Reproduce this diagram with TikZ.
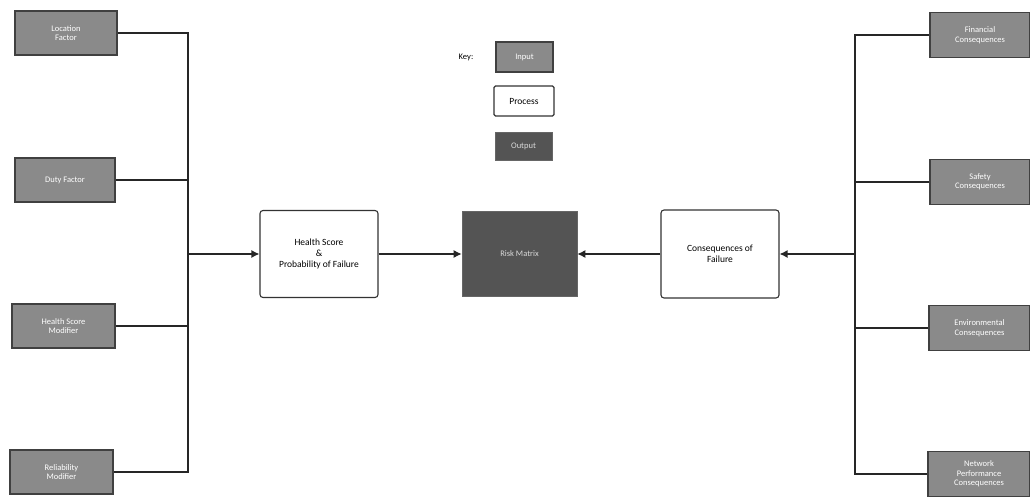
\documentclass[tikz,border=0pt]{standalone}
\usepackage{fontspec}
\setmainfont{Carlito}
\usetikzlibrary{arrows.meta}
\definecolor{inputgray}{HTML}{8A8A8A}
\definecolor{outputgray}{HTML}{545454}
\tikzset{
  inbox/.style={draw=black!75, line width=1.5pt, fill=inputgray, text=white, font=\fontsize{8.5}{9.5}\selectfont, align=center, inner sep=1pt},
  procbox/.style={draw=black!80, line width=1.1pt, fill=white, rounded corners=3pt, font=\fontsize{9.5}{11}\selectfont, align=center, inner sep=1pt},
  outbox/.style={draw=black!60, line width=0.6pt, fill=outputgray, text=white!85!black, font=\fontsize{8.5}{9.5}\selectfont, align=center, inner sep=1pt},
  conn/.style={draw=black!85, line width=1.3pt},
  arr/.style={conn, -{Latex[length=8pt,width=8pt]}}
}
\begin{document}
\begin{tikzpicture}[x=1pt,y=-1pt]
\useasboundingbox (0,0) rectangle (1030,497);
% left inputs
\node[inbox, minimum width=102pt, minimum height=44pt] (loc) at (66,33) {Location\\Factor};
\node[inbox, minimum width=100pt, minimum height=44pt] (duty) at (65,180) {Duty Factor};
\node[inbox, minimum width=103pt, minimum height=44pt] (hsm) at (63.5,326) {Health Score\\Modifier};
\node[inbox, minimum width=103pt, minimum height=44pt] (rel) at (61.5,472) {Reliability\\Modifier};
% right inputs
\node[inbox, minimum width=100pt, minimum height=45pt] (fin) at (980,35) {Financial\\Consequences};
\node[inbox, minimum width=100pt, minimum height=45pt] (saf) at (980,182) {Safety\\Consequences};
\node[inbox, minimum width=101pt, minimum height=45pt] (env) at (979.5,328) {Environmental\\Consequences};
\node[inbox, minimum width=102pt, minimum height=45pt] (net) at (979,474) {Network\\Performance\\Consequences};
% process / output
\node[procbox, minimum width=118pt, minimum height=87pt] (hs) at (319,254) {Health Score\\\&\\Probability of Failure};
\node[outbox, minimum width=115pt, minimum height=85pt] (risk) at (519.5,254) {Risk Matrix};
\node[procbox, minimum width=118pt, minimum height=88pt] (cof) at (720,254) {Consequences of\\Failure};
% key
\node[font=\fontsize{8.5}{9.5}\selectfont] (key) at (466,57) {Key:};
\node[inbox, minimum width=57pt, minimum height=30pt] (kin) at (524.5,57) {Input};
\node[procbox, rounded corners=1.5pt, minimum width=60pt, minimum height=30pt] (kproc) at (524,101) {Process};
\node[outbox, minimum width=57pt, minimum height=28pt] (kout) at (523.5,146) {Output};
% buses
\coordinate (lb) at (188,254);
\coordinate (rb) at (855,254);
\draw[conn] (loc.east) -| (lb);
\draw[conn] (duty.east) -| (lb);
\draw[conn] (hsm.east) -| (lb);
\draw[conn] (rel.east) -| (lb);
\draw[conn] (fin.west) -| (rb);
\draw[conn] (saf.west) -| (rb);
\draw[conn] (env.west) -| (rb);
\draw[conn] (net.west) -| (rb);
\draw[arr] (lb) -- (hs.west);
\draw[arr] (rb) -- (cof.east);
\draw[arr] (hs.east) -- (risk.west);
\draw[arr] (cof.west) -- (risk.east);
\end{tikzpicture}
\end{document}
